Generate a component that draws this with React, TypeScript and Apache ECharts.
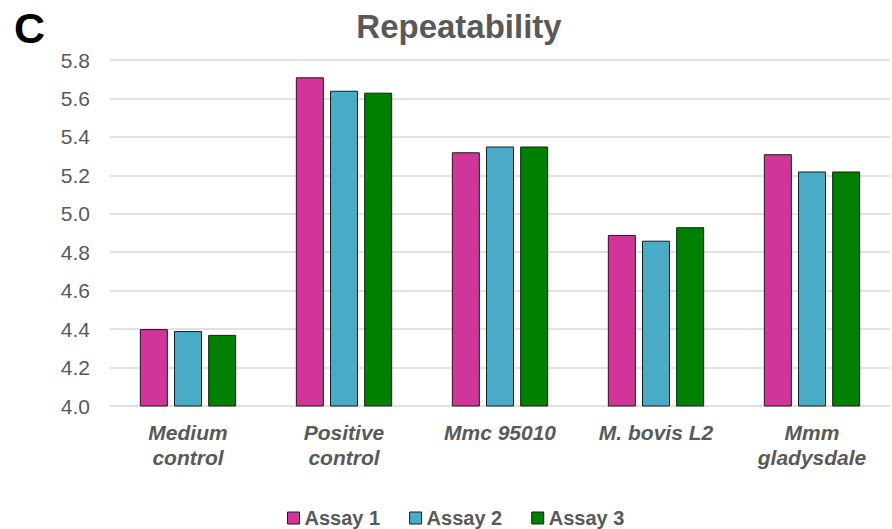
import React, { useEffect, useRef } from "react";
import * as echarts from "echarts";

const categories = ["Medium\ncontrol", "Positive\ncontrol", "Mmc 95010", "M. bovis L2", "Mmm\ngladysdale"];
const seriesNames = ["Assay 1", "Assay 2", "Assay 3"];
const assay1 = [4.4, 5.71, 5.32, 4.89, 5.31];
const assay2 = [4.39, 5.64, 5.35, 4.86, 5.22];
const assay3 = [4.37, 5.63, 5.35, 4.93, 5.22];
const colors = ["#D23599", "#4AABC6", "#008000"];

const FONT = "Liberation Sans, Arial, sans-serif";

export default function App() {
  const ref = useRef<HTMLDivElement>(null);
  useEffect(() => {
    const chart = echarts.init(ref.current!, null, { renderer: "svg" });
    const data = [assay1, assay2, assay3];
    chart.setOption({
      animation: false,
      title: [
        {
          text: "Repeatability",
          left: 454,
          top: 5,
          textAlign: "center",
          textStyle: { fontFamily: FONT, fontSize: 33, fontWeight: "bold", color: "#595959" },
        },
        {
          text: "C",
          left: 9,
          top: 1,
          textStyle: { fontFamily: FONT, fontSize: 43, fontWeight: "bold", color: "#000" },
        },
      ],
      legend: {
        top: 508,
        left: 287,
        padding: 0,
        itemWidth: 12,
        itemHeight: 12,
        itemGap: 29,
        icon: "rect",
        itemStyle: { borderColor: "#1a1a1a", borderWidth: 1 },
        textStyle: { fontFamily: FONT, fontSize: 20, fontWeight: "bold", color: "#595959" },
        data: seriesNames,
      },
      grid: { left: 110, right: 2, top: 60, bottom: 123 },
      xAxis: {
        type: "category",
        data: categories,
        axisLine: { show: false },
        axisTick: { show: false },
        axisLabel: {
          fontFamily: FONT,
          fontSize: 21,
          fontWeight: "bold",
          fontStyle: "italic",
          color: "#595959",
          margin: 14,
          lineHeight: 25,
          interval: 0,
        },
      },
      yAxis: {
        type: "value",
        min: 4.0,
        max: 5.8,
        interval: 0.2,
        axisLine: { show: false },
        axisTick: { show: false },
        splitLine: { lineStyle: { color: "#D9D9D9", width: 1.5 } },
        axisLabel: {
          fontFamily: FONT,
          fontSize: 21,
          color: "#595959",
          margin: 20,
          formatter: (v: number) => v.toFixed(1),
        },
      },
      series: seriesNames.map((name, i) => ({
        name,
        type: "bar",
        data: data[i],
        barWidth: 28,
        barGap: "22%",
        itemStyle: { color: colors[i], borderColor: "#1a1a1a", borderWidth: 1 },
      })),
    });
    return () => chart.dispose();
  }, []);
  return <div ref={ref} style={{ position: "fixed", left: 0, top: 0, width: 892, height: 529, background: "#fff" }} />;
}
